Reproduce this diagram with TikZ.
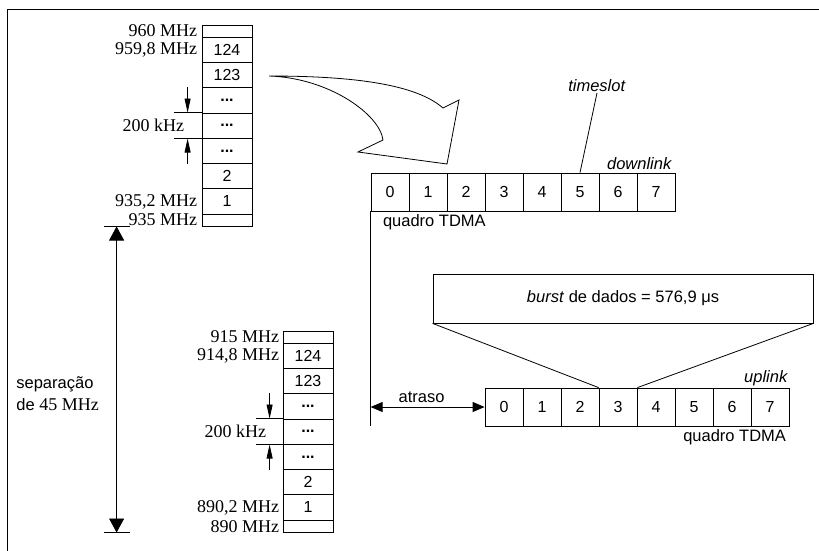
\documentclass[tikz,border=0pt]{standalone}
\usepackage{fontspec}
\setmainfont{Liberation Sans}
\newfontfamily\timesfont{Liberation Serif}
\usetikzlibrary{arrows.meta,positioning}
\newcommand{\dotcell}{\textbf{...}}

\tikzset{
  chcell/.style={draw, minimum width=50pt, minimum height=25.3pt, inner sep=0pt, font=\fontsize{16}{18}\selectfont},
  chend/.style={chcell, minimum height=12pt},
  tslot/.style={draw, minimum size=38pt, inner sep=0pt, font=\fontsize{16}{18}\selectfont},
  freqlbl/.style={inner sep=0pt, font=\timesfont\fontsize{18}{20}\selectfont},
  txt/.style={inner sep=1pt, font=\fontsize{16.5}{19}\selectfont},
  dimtip/.style={-{Triangle[length=14pt,width=6pt]}},
  septip/.style={{Triangle[length=14pt,width=15pt]}-{Triangle[length=14pt,width=15pt]}},
  delaytip/.style={{Triangle[length=12pt,width=10pt]}-{Triangle[length=12pt,width=10pt]}}
}

\begin{document}
\begin{tikzpicture}[x=1pt, y=-1pt, line width=0.8pt]
    \useasboundingbox (0,0) rectangle (819,551);
    % frame
    \draw (7,551) -- (7,9) -- (819,9);

    % Downlink band
    \node[chend] (dl-hi) at (227,31) {};
    \foreach \i/\t in {1/124,2/123,3/\dotcell,4/\dotcell,5/\dotcell,6/2,7/1}
        \node[chcell] (dl-\i) at (227,{24.35+25.3*\i}) {\t};
    \node[chend] (dl-lo) at (227,220.1) {};
    \node[freqlbl, left=4pt of dl-hi] (dl-f1) {960 MHz};
    \node[freqlbl, left=4pt of dl-1] (dl-f2) {959,8 MHz};
    \node[freqlbl, left=4pt of dl-7] (dl-f3) {935,2 MHz};
    \node[freqlbl, left=4pt of dl-lo] (dl-f4) {935 MHz};
    \node[freqlbl, left=17pt of dl-4] (dl-step) {200 kHz};
    \draw ([xshift=-28pt]dl-4.north west) -- (dl-4.north west);
    \draw ([xshift=-28pt]dl-4.south west) -- (dl-4.south west);
    \draw[dimtip] ([xshift=-14pt]dl-3.north west) -- ([xshift=-14pt]dl-4.north west);
    \draw[dimtip] ([xshift=-14pt]dl-5.south west) -- ([xshift=-14pt]dl-4.south west);

    % Uplink band
    \node[chend] (ul-hi) at (308,337) {};
    \foreach \i/\t in {1/124,2/123,3/\dotcell,4/\dotcell,5/\dotcell,6/2,7/1}
        \node[chcell] (ul-\i) at (308,{330.35+25.3*\i}) {\t};
    \node[chend] (ul-lo) at (308,526.1) {};
    \node[freqlbl, left=3pt of ul-hi] (ul-f1) {915 MHz};
    \node[freqlbl, left=3pt of ul-1] (ul-f2) {914,8 MHz};
    \node[freqlbl, left=3pt of ul-7] (ul-f3) {890,2 MHz};
    \node[freqlbl, left=3pt of ul-lo] (ul-f4) {890 MHz};
    \node[freqlbl, left=16pt of ul-4] (ul-step) {200 kHz};
    \draw ([xshift=-27pt]ul-4.north west) -- (ul-4.north west);
    \draw ([xshift=-27pt]ul-4.south west) -- (ul-4.south west);
    \draw[dimtip] ([xshift=-13pt]ul-3.north west) -- ([xshift=-13pt]ul-4.north west);
    \draw[dimtip] ([xshift=-13pt]ul-5.south west) -- ([xshift=-13pt]ul-4.south west);

    % Duplex separation
    \coordinate (sep-top) at ([xshift=-85pt]dl-lo.south west);
    \coordinate (sep-bot) at (sep-top |- ul-lo.south);
    \draw ([xshift=-13pt]sep-top) -- ([xshift=13pt]sep-top);
    \draw ([xshift=-13pt]sep-bot) -- ([xshift=13pt]sep-bot);
    \draw[septip] (sep-top) -- (sep-bot);
    \node[txt, align=left, anchor=west, font=\fontsize{16.5}{22}\selectfont] (sep-lbl) at (15,394) {separação\\de {\timesfont\fontsize{18}{22}\selectfont 45 MHz}};

    % Big curved arrow
    \draw (269,76) .. controls (370,76) and (420,88) .. (443,108) -- (459,100) -- (447,164)
        -- (358,152) -- (383,140) .. controls (380,115) and (330,78) .. (269,76);

    % TDMA frames
    \foreach \i in {0,...,7}
        \node[tslot] (d\i) at ({390+38*\i},192) {\i};
    \foreach \i in {0,...,7}
        \node[tslot] (u\i) at ({504+38*\i},407) {\i};
    \node[txt, anchor=south east, inner sep=3pt] (dl-name) at (d7.north east) {\textit{downlink}};
    \node[txt, anchor=south east] (ul-name) at (u7.north east) {\textit{uplink}};
    \node[txt, anchor=north west, inner sep=3pt] (dl-frame) at ([xshift=9pt]d0.south west) {quadro TDMA};
    \node[txt, anchor=north east, inner sep=3pt] (ul-frame) at (u7.south east) {quadro TDMA};

    % Timeslot
    \node[txt, anchor=south] (ts-lbl) at (597,93) {\textit{timeslot}};
    \draw (ts-lbl.south) -- (d5.north);

    % Delay between frames
    \coordinate (delay-end) at (d0.south west |- u0.south);
    \draw (d0.south west) -- (delay-end);
    \coordinate (delay-start) at (d0.west |- u0.west);
    \draw[delaytip] (delay-start) -- (u0.west) node[txt, midway, above, yshift=3pt, xshift=-6pt] (delay-lbl) {atraso};

    % Burst
    \node[draw, txt, minimum width=380pt, minimum height=49pt] (burst) at (623,298.5) {\textit{burst} de dados = 576,9 μs};
    \draw (burst.south west) -- (u3.north west);
    \draw (burst.south east) -- (u3.north east);
\end{tikzpicture}
\end{document}
